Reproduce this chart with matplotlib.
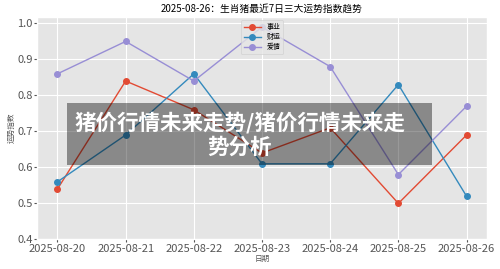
import matplotlib.pyplot as plt
from matplotlib.patches import Rectangle

plt.style.use('ggplot')
plt.rcParams['font.family'] = ['Noto Sans CJK SC', 'DejaVu Sans']
plt.rcParams['axes.unicode_minus'] = False

dates = ["2025-08-20", "2025-08-21", "2025-08-22", "2025-08-23",
         "2025-08-24", "2025-08-25", "2025-08-26"]
career = [0.54, 0.84, 0.76, 0.64, 0.71, 0.50, 0.69]
wealth = [0.56, 0.69, 0.86, 0.61, 0.61, 0.83, 0.52]
love = [0.86, 0.95, 0.84, 0.99, 0.88, 0.58, 0.77]
series_names = ["事业", "财运", "爱情"]

fig = plt.figure(figsize=(5, 2.69), dpi=100)
ax = fig.add_axes([0.074, 0.11, 0.9, 0.827])

x = range(len(dates))
for vals, name, color in zip([career, wealth, love], series_names,
                             ['#E24A33', '#348ABD', '#988ED5']):
    ax.plot(x, vals, marker='o', markersize=4, linewidth=1, color=color, label=name)

ax.set_xticks(list(x))
ax.set_xticklabels(dates)
ax.set_ylim(0.4, 1.018)
ax.set_yticks([0.4, 0.5, 0.6, 0.7, 0.8, 0.9, 1.0])
ax.set_yticklabels(["0.4", "0.5", "0.6", "0.7", "0.8", "0.9", "1.0"])
ax.tick_params(axis='both', labelsize=8, length=2, pad=1)
ax.set_xlabel("日期", fontsize=5.5, color='#555555', labelpad=1)
ax.set_ylabel("运势指数", fontsize=5.5, color='#555555', labelpad=1)
ax.set_title("2025-08-26：生肖猪最近7日三大运势指数趋势", fontsize=7, pad=4)
ax.legend(loc='upper center', fontsize=5, handlelength=2.5,
          borderpad=0.4, labelspacing=0.3, framealpha=0.8)

# overlay banner
fig.patches.append(Rectangle((0.134, 0.387), 0.73, 0.23, transform=fig.transFigure,
                             facecolor='black', alpha=0.4, edgecolor='none', zorder=5))
fig.text(0.479, 0.50, "猪价行情未来走势/猪价行情未来走\n势分析", ha='center', va='center',
         fontsize=15.5, fontweight='bold', color='white', linespacing=1.2, zorder=6)

plt.savefig('out.png', dpi=100)
